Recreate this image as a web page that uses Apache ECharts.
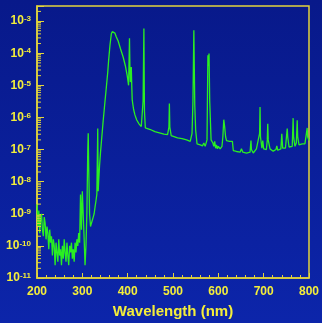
<!DOCTYPE html>
<html>
<head>
<meta charset="utf-8">
<script src="https://cdn.jsdelivr.net/npm/echarts@6/dist/echarts.min.js"></script>
<style>
html,body{margin:0;padding:0;background:#0a1c92;}
#chart{width:322px;height:323px;}
</style>
</head>
<body>
<div id="chart"></div>
<script>
// Wavelength (nm)
var wavelength = [
200,202,204,206,208,210,212,214,216,218,220,222,224,226,228,230,232,234,236,238,
240,242,244,246,248,250,252,254,256,258,260,262,264,266,268,270,272,274,276,278,
280,282,284,286,288,290,292,294,296,298,300,302,304,306,308,310,312,313,314,316,
318,320,322,324,326,328,330,332,334,335,336,338,340,343,346,350,353,356,358,361,
364,366,370,372,375,379,384,390,395,399,402,404,405,406,408,409,410,413,416,420,
425,430,433,434,435.8,437,439,442,450,460,470,480,488,491,492,493,496,500,510,520,
530,538,542,544,546,548,550,553,560,565,568,571,575,577,578,579.5,581,584,588,590,
592,594,596,598,600,604,608,610,612,614,616,618,625,629,631,633,640,648,651,654,
662,670,671,672,673,677,684,688,691,692,693,696,698,700,706,708,709,710,714,721,
727,729,731,738,740,742,748,751,752,753,756,763,765,766,769,772,774,775,778,785,
791,794,796,797,800
];
// Intensity (arb. units)
var intensity = [
2.0e-9,4.0e-10,1.26e-9,2.5e-10,6.3e-10,1.0e-9,3.2e-10,2.0e-10,7.9e-10,5.0e-10,1.6e-10,4.0e-10,2.5e-10,7.9e-11,3.2e-10,1.26e-10,2.0e-10,5.0e-11,1.6e-10,1.0e-10,
2.5e-11,1.26e-10,6.3e-11,3.2e-11,1.6e-10,5.0e-11,7.9e-11,2.5e-11,1.0e-10,4.0e-11,1.6e-10,6.3e-11,3.2e-11,1.26e-10,5.0e-11,2.5e-11,1.0e-10,6.3e-11,1.26e-10,4.0e-11,
7.9e-11,3.2e-11,1.26e-10,6.3e-11,1.6e-10,1.0e-10,2.5e-10,1.26e-10,4.0e-9,3.2e-10,5.0e-9,5.0e-9,1.6e-10,2.5e-11,1.0e-10,1.0e-9,1.0e-7,3.2e-7,3.2e-8,1.0e-9,
4.0e-10,5.0e-10,6.3e-10,7.9e-10,1.0e-9,1.6e-9,2.5e-9,4.0e-9,4.5e-7,5.0e-9,1.0e-8,3.2e-8,7.9e-8,2.5e-7,7.9e-7,3.2e-6,8.9e-6,2.5e-5,6.0e-5,1.8e-4,
4.0e-4,4.7e-4,4.7e-4,4.2e-4,3.2e-4,2.4e-4,1.4e-4,7.6e-5,4.0e-5,2.0e-5,1.0e-5,2.9e-4,3.2e-5,1.26e-5,3.7e-5,1.0e-5,3.5e-6,1.8e-6,1.2e-6,8.3e-7,
6.3e-7,5.2e-7,5.0e-7,3.2e-6,5.9e-4,1.6e-6,4.7e-7,4.5e-7,4.2e-7,3.6e-7,3.3e-7,3.0e-7,2.9e-7,5.0e-7,2.7e-6,5.0e-7,2.7e-7,2.5e-7,2.3e-7,2.2e-7,
2.0e-7,1.8e-7,3.2e-7,3.2e-6,5.2e-4,2.5e-6,4.0e-7,1.5e-7,1.4e-7,1.3e-7,1.6e-7,1.26e-7,2.0e-7,8.7e-5,4.0e-5,9.8e-5,3.2e-6,2.0e-7,1.6e-7,1.26e-7,
1.8e-7,1.1e-7,1.4e-7,1.05e-7,1.26e-7,1.05e-7,1.26e-7,2.5e-7,8.5e-7,5.0e-7,2.5e-7,1.9e-7,1.8e-7,1.9e-7,1.8e-7,9.3e-8,8.7e-8,8.3e-8,1.05e-7,8.3e-8,
7.8e-8,8.3e-8,1.26e-7,1.9e-7,1.0e-7,7.8e-8,1.05e-7,1.0e-7,3.2e-7,2.1e-6,2.5e-7,1.1e-7,1.9e-7,1.05e-7,1.0e-7,2.0e-7,6.3e-7,2.0e-7,1.05e-7,8.9e-8,
1.0e-7,1.3e-7,9.5e-8,1.05e-7,3.1e-7,1.1e-7,1.1e-7,3.2e-7,4.5e-7,2.5e-7,1.2e-7,1.26e-7,9.5e-7,2.5e-7,1.26e-7,1.6e-7,8.1e-7,2.5e-7,1.4e-7,1.5e-7,
1.5e-7,1.6e-7,4.7e-7,2.5e-7,1.9e-7
];
// Tick labels
var xTickLabels = ['200','300','400','500','600','700','800'];
var yTickExponents = ['-11','-10','-9','-8','-7','-6','-5','-4','-3'];
var minorMantissas = [2,3,4,5,6,7,8,9];

var axisColor = '#e2d43c';
var labelColor = '#f4ee3a';
var lineColor = '#2aee22';
var yMin = 1e-11, yMax = 2.95e-3;

var series = [];
for (var i = 0; i < wavelength.length; i++) series.push([wavelength[i], intensity[i]]);

var minorTickVals = [];
yTickExponents.forEach(function (e) {
  minorMantissas.forEach(function (m) {
    var v = m * Math.pow(10, Number(e));
    if (v < yMax) minorTickVals.push([200, v]);
  });
});

var chart = echarts.init(document.getElementById('chart'), null, {renderer: 'canvas'});
chart.setOption({
  animation: false,
  backgroundColor: {
    type: 'linear', x: 0, y: 0, x2: 0, y2: 1,
    colorStops: [{offset: 0, color: '#08198a'}, {offset: 1, color: '#0c25aa'}]
  },
  grid: {
    left: 37, right: 13, top: 6, bottom: 45,
    containLabel: false, outerBoundsMode: 'none',
    show: true, borderColor: axisColor, borderWidth: 1.5, backgroundColor: 'transparent'
  },
  xAxis: {
    type: 'value', min: 200, max: 800, interval: 100,
    name: 'Wavelength (nm)', nameLocation: 'middle', nameGap: 26,
    nameTextStyle: {color: labelColor, fontSize: 15, fontWeight: 'bold', fontFamily: 'Liberation Sans, Arial, sans-serif'},
    axisLine: {show: true, lineStyle: {color: axisColor, width: 1.5}},
    axisTick: {show: true, inside: true, length: 5, lineStyle: {color: axisColor}},
    minorTick: {show: true, splitNumber: 5, length: 3, lineStyle: {color: axisColor}},
    splitLine: {show: false},
    axisLabel: {
      color: labelColor, fontSize: 12, fontWeight: 'bold', margin: 8,
      fontFamily: 'Liberation Sans, Arial, sans-serif',
      formatter: function (v) { var s = String(v); return xTickLabels.indexOf(s) >= 0 ? s : ''; }
    }
  },
  yAxis: {
    type: 'log', logBase: 10, min: yMin, max: yMax, interval: 1, splitNumber: 8,
    axisLine: {show: true, lineStyle: {color: axisColor, width: 1.5}},
    axisTick: {show: true, inside: true, length: 7, lineStyle: {color: axisColor}},
    splitLine: {show: false},
    axisLabel: {
      margin: 6, verticalAlign: 'middle', hideOverlap: false,
      formatter: function (v) {
        var e = Math.log10(v);
        var r = Math.round(e);
        if (Math.abs(e - r) > 1e-6) return '';
        var s = String(r);
        if (yTickExponents.indexOf(s) < 0) return '';
        return '{b|10}{s|' + s + '}';
      },
      rich: {
        b: {color: labelColor, fontSize: 12, fontWeight: 'bold', lineHeight: 12, fontFamily: 'Liberation Sans, Arial, sans-serif'},
        s: {color: labelColor, fontSize: 8, fontWeight: 'bold', lineHeight: 6, verticalAlign: 'top', fontFamily: 'Liberation Sans, Arial, sans-serif'}
      }
    }
  },
  series: [
    {
      type: 'line', data: series, showSymbol: false, symbol: 'none',
      lineStyle: {color: lineColor, width: 1.3}, clip: true, z: 3
    },
    {
      type: 'custom', data: minorTickVals, silent: true, clip: false, z: 4,
      renderItem: function (params, api) {
        var p = api.coord([api.value(0), api.value(1)]);
        return {type: 'line', shape: {x1: p[0], y1: p[1], x2: p[0] + 4, y2: p[1]},
          style: {stroke: axisColor, lineWidth: 1}};
      }
    }
  ]
});
</script>
</body>
</html>
